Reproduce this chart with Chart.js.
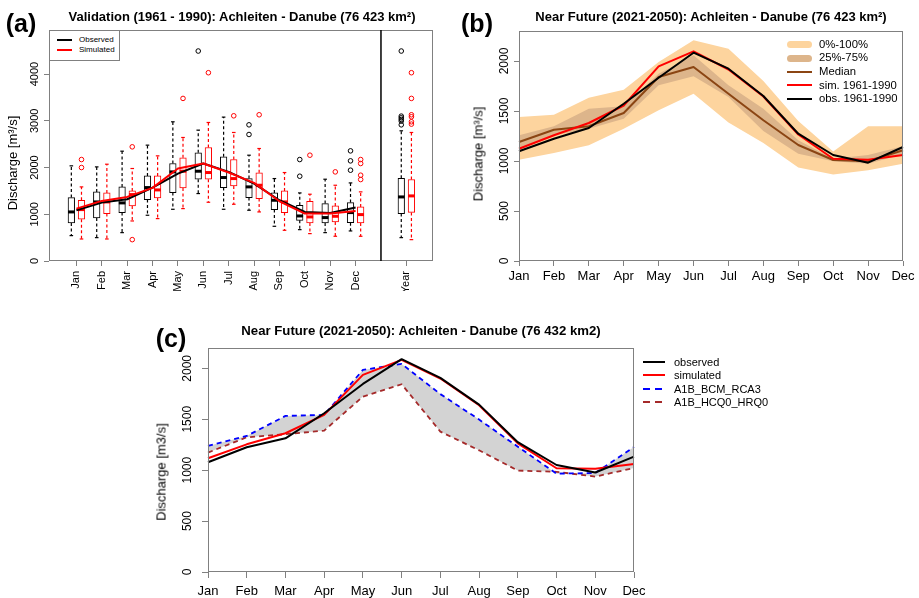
<!DOCTYPE html>
<html><head><meta charset="utf-8">
<script src="https://cdn.jsdelivr.net/npm/chart.js@4"></script>
<style>
html,body{margin:0;padding:0;background:#fff;}
body{width:919px;height:598px;position:relative;overflow:hidden;font-family:"Liberation Sans",Arial,Helvetica,sans-serif;color:#000;}
canvas{position:absolute;left:0;top:0;}
.t{position:absolute;white-space:nowrap;transform:translate(-50%,-50%);line-height:1;}
.ttl{font-weight:bold;font-size:13px;}
.pl{font-weight:bold;font-size:25px;}
.yl{font-size:13px;transform:translate(-50%,-50%) rotate(-90deg);}
.lg{position:absolute;white-space:nowrap;line-height:1;transform:translateY(-50%);}
.sw{position:absolute;}
</style></head>
<body>
<canvas id="ca" width="919" height="598"></canvas>
<canvas id="cb" width="919" height="598"></canvas>
<canvas id="cc" width="919" height="598"></canvas>

<div class="t pl" style="left:21px;top:23px">(a)</div>
<div class="t pl" style="left:477px;top:23px">(b)</div>
<div class="t pl" style="left:171px;top:338px">(c)</div>

<div class="t ttl" style="left:242px;top:16px">Validation (1961 - 1990): Achleiten - Danube (76 423 km²)</div>
<div class="t ttl" style="left:711px;top:16px">Near Future (2021-2050): Achleiten - Danube (76 423 km²)</div>
<div class="t ttl" style="left:421px;top:331px;font-size:13.2px">Near Future (2021-2050): Achleiten - Danube (76 432 km2)</div>

<div class="t yl" style="left:12px;top:163px">Discharge [m³/s]</div>
<div class="t yl" style="left:478px;top:154px">Discharge [m³/s]</div>
<div class="t yl" style="left:161px;top:472px">Discharge [m3/s]</div>

<!-- legend a -->
<div class="sw" style="left:49px;top:30px;width:69px;height:29px;border:1px solid #808080;background:#fff;"></div>
<div class="sw" style="left:57px;top:39px;width:15px;height:2px;background:#000;"></div>
<div class="sw" style="left:57px;top:49px;width:15px;height:2px;background:#ff0000;"></div>
<div class="lg" style="left:79px;top:40px;font-size:8px;">Observed</div>
<div class="lg" style="left:79px;top:50px;font-size:8px;">Simulated</div>

<!-- legend b -->
<div class="sw" style="left:787px;top:41px;width:25px;height:7px;border-radius:3.5px;background:#FDD49E;"></div>
<div class="sw" style="left:787px;top:55px;width:25px;height:7px;border-radius:3.5px;background:#DDB58B;"></div>
<div class="sw" style="left:787px;top:71px;width:25px;height:2px;background:#8B4513;"></div>
<div class="sw" style="left:787px;top:84px;width:25px;height:2px;background:#ff0000;"></div>
<div class="sw" style="left:787px;top:98px;width:25px;height:2px;background:#000;"></div>
<div class="lg" style="left:819px;top:44.5px;font-size:11.3px;">0%-100%</div>
<div class="lg" style="left:819px;top:58.3px;font-size:11.3px;">25%-75%</div>
<div class="lg" style="left:819px;top:72px;font-size:11.3px;">Median</div>
<div class="lg" style="left:819px;top:85.5px;font-size:11.3px;">sim. 1961-1990</div>
<div class="lg" style="left:819px;top:99px;font-size:11.3px;">obs. 1961-1990</div>

<!-- legend c -->
<div class="sw" style="left:643px;top:361px;width:22px;height:2px;background:#000;"></div>
<div class="sw" style="left:643px;top:374px;width:22px;height:2px;background:#ff0000;"></div>
<div class="sw" style="left:643px;top:387.5px;width:19px;height:2px;background:repeating-linear-gradient(90deg,#0000ff 0 7px,transparent 7px 12px);"></div>
<div class="sw" style="left:643px;top:401px;width:19px;height:2px;background:repeating-linear-gradient(90deg,#A52A2A 0 7px,transparent 7px 12px);"></div>
<div class="lg" style="left:674px;top:362px;font-size:11px;">observed</div>
<div class="lg" style="left:674px;top:375px;font-size:11px;">simulated</div>
<div class="lg" style="left:674px;top:388.5px;font-size:11px;">A1B_BCM_RCA3</div>
<div class="lg" style="left:674px;top:402px;font-size:11px;">A1B_HCQ0_HRQ0</div>

<script>
// ---------- shared ----------
const months = ['Jan','Feb','Mar','Apr','May','Jun','Jul','Aug','Sep','Oct','Nov','Dec'];

// ---------- panel (a): boxplots, 12 months + Year ----------
const boxCats = ['Jan','Feb','Mar','Apr','May','Jun','Jul','Aug','Sep','Oct','Nov','Dec','Year'];
const obsLo  = [543, 500, 607, 979, 1107, 1443, 1107, 1086, 743, 671, 607, 643, 500];
const obsQ1  = [814, 921, 1036, 1314, 1464, 1750, 1571, 1357, 1100, 871, 814, 821, 1014];
const obsMed = [1050, 1264, 1243, 1571, 1907, 1921, 1786, 1586, 1300, 964, 929, 1036, 1371];
const obsQ3  = [1357, 1479, 1586, 1821, 2086, 2314, 2229, 1764, 1457, 1193, 1229, 1250, 1770];
const obsHi  = [2036, 2014, 2350, 2479, 2979, 2800, 3079, 2264, 1764, 1457, 1750, 1671, 2786];
const obsOut = [[], [], [], [], [], [4493], [], [2914, 2707], [], [2171, 1814], [], [2357, 2143, 1943],
                [4493, 3100, 3064, 3029, 2993, 2914]];
const simLo  = [471, 471, 857, 907, 1121, 1257, 1214, 1050, 657, 586, 529, 529, 457];
const simQ1  = [893, 1014, 1179, 1350, 1564, 1750, 1607, 1336, 1036, 814, 836, 814, 1040];
const simMed = [1100, 1264, 1421, 1521, 1921, 1893, 1764, 1621, 1264, 943, 957, 993, 1393];
const simQ3  = [1300, 1457, 1500, 1821, 2207, 2429, 2171, 1886, 1500, 1279, 1179, 1157, 1744];
const simHi  = [1586, 2071, 1979, 2250, 2643, 2964, 2750, 2407, 1893, 1429, 1621, 1479, 2750];
const simOut = [[2171, 2000], [], [2443, 457], [], [3479], [4029], [3107], [3129], [], [2264], [1907],
                [2171, 2086, 1836, 1743], [4029, 3479, 3129, 3086, 2979, 2929]];
const obsMeanA = [1086, 1250, 1321, 1571, 1871, 2086, 1907, 1657, 1300, 1050, 1029, 1143];
const simMeanA = [1121, 1286, 1371, 1564, 1979, 2086, 1893, 1671, 1279, 1014, 1014, 1071];
const yTicksA = [0, 1000, 2000, 3000, 4000];

// ---------- panel (b) ----------
const obsB = [1097, 1223, 1330, 1573, 1833, 2083, 1923, 1650, 1273, 1060, 983, 1140];
const simB = [1123, 1257, 1380, 1555, 1947, 2097, 1915, 1645, 1265, 1023, 1013, 1060];
const medB = [1190, 1313, 1347, 1480, 1840, 1940, 1673, 1407, 1160, 1010, 997, 1107];
const maxB = [1440, 1463, 1633, 1713, 1990, 2207, 2123, 1800, 1400, 1095, 1347, 1347];
const minB = [1013, 1080, 1157, 1323, 1507, 1673, 1386, 1180, 936, 865, 907, 973];
const q75B = [1257, 1347, 1523, 1547, 1873, 2057, 1757, 1523, 1207, 1023, 1060, 1147];
const q25B = [1113, 1257, 1323, 1423, 1757, 1847, 1640, 1300, 1073, 997, 973, 1067];
const yTicksB = [0, 500, 1000, 1500, 2000];

// ---------- panel (c) ----------
const obsC = [1078, 1225, 1313, 1559, 1847, 2090, 1906, 1644, 1275, 1051, 977, 1133];
const simC = [1117, 1254, 1363, 1543, 1936, 2083, 1900, 1638, 1264, 1019, 1015, 1061];
const bcmC = [1238, 1336, 1533, 1543, 1985, 2044, 1747, 1497, 1231, 966, 972, 1228];
const hcqC = [1173, 1323, 1353, 1389, 1723, 1844, 1379, 1195, 996, 984, 937, 1022];
const yTicksC = [0, 500, 1000, 1500, 2000];

// ---------- helpers ----------
Chart.defaults.font.family = '"Liberation Sans", Arial, Helvetica, sans-serif';
Chart.defaults.color = '#000';
const AXIS = '#808080';
const fixW = w => s => { s.width = w; };
const fixH = h => s => { s.height = h; };
const setTicks = vals => s => { s.ticks = vals.map(v => ({ value: v })); };
const plain = v => String(v);

function seg(ctx, x1, y1, x2, y2) { ctx.beginPath(); ctx.moveTo(x1, y1); ctx.lineTo(x2, y2); ctx.stroke(); }

const framePlugin = {
  id: 'frame',
  afterDraw(chart, args, opts) {
    const { left, top, right, bottom } = chart.chartArea;
    const ctx = chart.ctx;
    ctx.save();
    ctx.strokeStyle = AXIS; ctx.lineWidth = 1;
    const l = Math.round(left) + 0.5, t = Math.round(top) + 0.5;
    ctx.strokeRect(l, t, Math.round(right) - Math.round(left) - 1, Math.round(bottom) - Math.round(top) - 1);
    if (opts && opts.sepAt != null) {
      const xs = chart.scales.x.getPixelForValue(opts.sepAt);
      ctx.strokeStyle = '#000'; ctx.lineWidth = 1.5;
      seg(ctx, xs, top, xs, bottom);
    }
    ctx.restore();
  }
};

const boxPlugin = {
  id: 'boxWhisk',
  afterDatasetDraw(chart, args) {
    const ds = chart.data.datasets[args.index];
    if (!ds.stats) return;
    const st = ds.stats;
    const meta = chart.getDatasetMeta(args.index);
    const ys = chart.scales.y;
    const ctx = chart.ctx;
    ctx.save();
    ctx.strokeStyle = ds.borderColor;
    meta.data.forEach((el, i) => {
      const x = el.x, hw = el.width / 2;
      const yLo = ys.getPixelForValue(st.lo[i]), yQ1 = ys.getPixelForValue(st.q1[i]);
      const yMd = ys.getPixelForValue(st.med[i]), yQ3 = ys.getPixelForValue(st.q3[i]);
      const yHi = ys.getPixelForValue(st.hi[i]);
      ctx.lineWidth = 1.2; ctx.setLineDash([3, 2.5]);
      seg(ctx, x, yQ3, x, yHi); seg(ctx, x, yQ1, x, yLo);
      ctx.setLineDash([]);
      seg(ctx, x - 1.8, yHi, x + 1.8, yHi); seg(ctx, x - 1.8, yLo, x + 1.8, yLo);
      ctx.lineWidth = 3;
      seg(ctx, x - hw, yMd, x + hw, yMd);
    });
    ctx.restore();
  }
};

const gridOpts = tl => ({ drawOnChartArea: false, drawTicks: true, tickLength: tl, color: AXIS, offset: false });

// ---------- chart (a) ----------
const boxPos = boxCats.map((c, i) => (i < 12 ? i + 1 : 14));
const outPts = (arr, dx) => arr.flatMap((vals, i) => vals.map(v => ({ x: boxPos[i] + dx, y: v })));

new Chart(document.getElementById('ca'), {
  type: 'bar',
  data: {
    datasets: [
      { type: 'line', label: 'Simulated', data: months.map((m, i) => ({ x: i + 1, y: simMeanA[i] })),
        borderColor: '#ff0000', borderWidth: 2, pointRadius: 0, tension: 0, order: 0, borderJoinStyle: 'round' },
      { type: 'line', label: 'Observed', data: months.map((m, i) => ({ x: i + 1, y: obsMeanA[i] })),
        borderColor: '#000000', borderWidth: 2, pointRadius: 0, tension: 0, order: 1, borderJoinStyle: 'round' },
      { type: 'scatter', data: outPts(obsOut, -0.2), pointRadius: 2.3, pointBorderWidth: 1,
        pointBorderColor: '#000', pointBackgroundColor: 'rgba(0,0,0,0)', order: 2 },
      { type: 'scatter', data: outPts(simOut, 0.2), pointRadius: 2.3, pointBorderWidth: 1,
        pointBorderColor: '#ff0000', pointBackgroundColor: 'rgba(0,0,0,0)', order: 3 },
      { type: 'bar', data: boxCats.map((c, i) => ({ x: boxPos[i] - 0.2, y: [obsQ1[i], obsQ3[i]] })),
        backgroundColor: '#ffffff', borderColor: '#000000', borderWidth: 1, borderSkipped: false,
        barThickness: 6.6, grouped: false, order: 4,
        stats: { lo: obsLo, q1: obsQ1, med: obsMed, q3: obsQ3, hi: obsHi } },
      { type: 'bar', data: boxCats.map((c, i) => ({ x: boxPos[i] + 0.2, y: [simQ1[i], simQ3[i]] })),
        backgroundColor: '#ffffff', borderColor: '#ff0000', borderWidth: 1, borderSkipped: false,
        barThickness: 6.6, grouped: false, order: 5,
        stats: { lo: simLo, q1: simQ1, med: simMed, q3: simQ3, hi: simHi } }
    ]
  },
  options: {
    responsive: false, animation: false, devicePixelRatio: 1,
    layout: { autoPadding: false, padding: { left: 0, top: 30, right: 486, bottom: 307 } },
    plugins: { legend: { display: false }, tooltip: { enabled: false }, frame: { sepAt: 13 } },
    scales: {
      x: { type: 'linear', min: -0.08, max: 15.05, offset: false, grid: gridOpts(5), border: { display: false },
        afterBuildTicks: setTicks(boxPos), afterFit: fixH(30),
        ticks: { autoSkip: false, minRotation: 90, maxRotation: 90, padding: 5, font: { size: 11 },
          callback: (v, i) => boxCats[i] } },
      y: { type: 'linear', min: 0, max: 4943, grid: gridOpts(5), border: { display: false },
        afterBuildTicks: setTicks(yTicksA), afterFit: fixW(49),
        ticks: { minRotation: 90, maxRotation: 90, crossAlign: 'center', padding: -3.6, font: { size: 11 }, callback: plain } }
    }
  },
  plugins: [framePlugin, boxPlugin]
});

// ---------- chart (b) ----------
const bandLine = { borderColor: 'rgba(0,0,0,0)', borderWidth: 0, pointRadius: 0 };
new Chart(document.getElementById('cb'), {
  type: 'line',
  data: {
    labels: months,
    datasets: [
      { label: 'obs. 1961-1990', data: obsB, borderColor: '#000000', borderWidth: 2 },
      { label: 'sim. 1961-1990', data: simB, borderColor: '#ff0000', borderWidth: 2 },
      { label: 'Median', data: medB, borderColor: '#8B4513', borderWidth: 2 },
      Object.assign({ label: '75%', data: q75B, fill: '+1', backgroundColor: '#DDB58B' }, bandLine),
      Object.assign({ label: '25%', data: q25B, fill: false }, bandLine),
      Object.assign({ label: '100%', data: maxB, fill: '+1', backgroundColor: '#FDD49E' }, bandLine),
      Object.assign({ label: '0%', data: minB, fill: false }, bandLine)
    ]
  },
  options: {
    responsive: false, animation: false, devicePixelRatio: 1,
    elements: { point: { radius: 0 }, line: { tension: 0, borderJoinStyle: 'round' } },
    layout: { autoPadding: false, padding: { left: 470, top: 31, right: 16, bottom: 307 } },
    plugins: { legend: { display: false }, tooltip: { enabled: false }, filler: { drawTime: 'beforeDatasetsDraw' }, frame: {} },
    scales: {
      x: { type: 'category', offset: false, grid: gridOpts(5), border: { display: false }, afterFit: fixH(30),
        ticks: { autoSkip: false, minRotation: 0, maxRotation: 0, padding: 2.8, font: { size: 13 } } },
      y: { type: 'linear', min: 0, max: 2300, grid: gridOpts(5), border: { display: false },
        afterBuildTicks: setTicks(yTicksB), afterFit: fixW(49),
        ticks: { minRotation: 90, maxRotation: 90, crossAlign: 'center', padding: -3.7, font: { size: 12 }, callback: plain } }
    }
  },
  plugins: [framePlugin]
});

// ---------- chart (c) ----------
new Chart(document.getElementById('cc'), {
  type: 'line',
  data: {
    labels: months,
    datasets: [
      { label: 'observed', data: obsC, borderColor: '#000000', borderWidth: 2 },
      { label: 'simulated', data: simC, borderColor: '#ff0000', borderWidth: 2 },
      { label: 'A1B_BCM_RCA3', data: bcmC, borderColor: '#0000ff', borderWidth: 1.8, borderDash: [5, 4],
        fill: '+1', backgroundColor: '#D3D3D3' },
      { label: 'A1B_HCQ0_HRQ0', data: hcqC, borderColor: '#A52A2A', borderWidth: 1.8, borderDash: [5, 4], fill: false }
    ]
  },
  options: {
    responsive: false, animation: false, devicePixelRatio: 1,
    elements: { point: { radius: 0 }, line: { tension: 0, borderJoinStyle: 'round' } },
    layout: { autoPadding: false, padding: { left: 160, top: 348, right: 285, bottom: 0 } },
    plugins: { legend: { display: false }, tooltip: { enabled: false }, filler: { drawTime: 'beforeDatasetsDraw' }, frame: {} },
    scales: {
      x: { type: 'category', offset: false, grid: gridOpts(6), border: { display: false }, afterFit: fixH(26),
        ticks: { autoSkip: false, minRotation: 0, maxRotation: 0, padding: 5.9, font: { size: 13 } } },
      y: { type: 'linear', min: 0, max: 2200, grid: gridOpts(6), border: { display: false },
        afterBuildTicks: setTicks(yTicksC), afterFit: fixW(48),
        ticks: { minRotation: 90, maxRotation: 90, crossAlign: 'center', padding: 1.2, font: { size: 12 }, callback: plain } }
    }
  },
  plugins: [framePlugin]
});
</script>
</body></html>
